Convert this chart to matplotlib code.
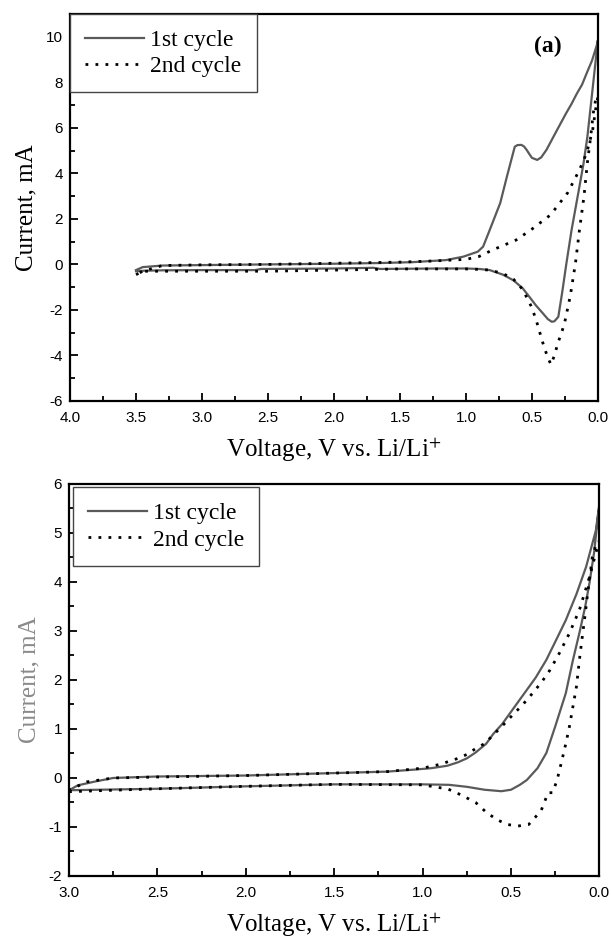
import numpy as np
import matplotlib.pyplot as plt

plt.rcParams['mathtext.fontset'] = 'stix'

# ---- panel (a): voltage (V) and current (mA), cathodic sweep then anodic sweep
a1_volt = [3.50, 3.45, 3.30, 3.00, 2.60, 2.55, 2.50, 2.00, 1.70, 1.65, 1.20, 1.00,
           0.90, 0.82, 0.72, 0.64, 0.57, 0.52, 0.47, 0.42, 0.38, 0.35, 0.33, 0.30,
           0.27, 0.24, 0.20, 0.15, 0.11, 0.08, 0.048, 0.02, 0.0,
           0.01, 0.045, 0.085, 0.12, 0.16, 0.20, 0.24, 0.31, 0.39, 0.43, 0.46, 0.50,
           0.52, 0.54, 0.56, 0.58, 0.61, 0.63, 0.65, 0.69, 0.74, 0.82, 0.87, 0.91,
           1.02, 1.15, 1.40, 1.65, 2.00, 2.50, 3.00, 3.30, 3.45, 3.50]
a1_curr = [-0.30, -0.28, -0.26, -0.25, -0.25, -0.20, -0.20, -0.18, -0.15, -0.20, -0.18, -0.18,
           -0.20, -0.25, -0.45, -0.70, -1.05, -1.42, -1.80, -2.13, -2.40, -2.52, -2.50, -2.30,
           -1.20, 0.00, 1.50, 3.10, 4.40, 5.60, 7.30, 8.80, 9.85,
           9.60, 8.95, 8.40, 7.90, 7.50, 7.05, 6.65, 5.90, 5.03, 4.70, 4.59, 4.68,
           4.85, 5.03, 5.18, 5.25, 5.24, 5.17, 4.73, 3.85, 2.70, 1.51, 0.78, 0.56,
           0.34, 0.19, 0.10, 0.06, 0.03, 0.00, -0.03, -0.05, -0.12, -0.25]

a2_volt = [3.50, 3.45, 3.00, 2.50, 2.00, 1.50, 1.00, 0.90, 0.82, 0.72, 0.64, 0.57,
           0.50, 0.46, 0.42, 0.38, 0.355, 0.33, 0.30, 0.27, 0.25, 0.21, 0.17, 0.14,
           0.106, 0.08, 0.055, 0.035, 0.015, 0.0,
           0.005, 0.015, 0.04, 0.085, 0.14, 0.23, 0.36, 0.50, 0.62, 0.80, 0.90, 1.00,
           1.25, 1.50, 2.00, 2.50, 3.00, 3.30, 3.45, 3.50]
a2_curr = [-0.45, -0.30, -0.30, -0.30, -0.25, -0.20, -0.20, -0.22, -0.25, -0.40, -0.65, -1.10,
           -1.90, -2.60, -3.40, -4.10, -4.40, -4.00, -3.40, -2.90, -2.50, -1.40, 0.06, 1.51,
           2.97, 4.46, 5.60, 6.65, 7.30, 7.40,
           7.20, 6.90, 5.90, 4.90, 4.15, 3.14, 2.17, 1.55, 1.07, 0.63, 0.35, 0.22,
           0.15, 0.10, 0.05, 0.00, -0.02, -0.05, -0.30, -0.45]

# ---- panel (b)
b1_volt = [3.00, 2.50, 2.00, 1.50, 1.00, 0.85, 0.75, 0.65, 0.555, 0.50, 0.45, 0.41,
           0.35, 0.30, 0.25, 0.19, 0.15, 0.113, 0.08, 0.056, 0.03, 0.01, 0.0,
           0.0, 0.02, 0.075, 0.13, 0.19, 0.24, 0.30, 0.36, 0.42, 0.48, 0.55, 0.60,
           0.64, 0.70, 0.75, 0.80, 0.86, 0.95, 1.05, 1.20, 1.50, 2.00, 2.50, 2.75,
           2.85, 2.95, 3.00]
b1_curr = [-0.25, -0.22, -0.17, -0.13, -0.13, -0.14, -0.18, -0.24, -0.27, -0.24, -0.14, -0.04,
           0.20, 0.51, 1.05, 1.73, 2.40, 2.96, 3.50, 3.98, 4.60, 5.27, 5.55,
           5.60, 5.05, 4.31, 3.75, 3.22, 2.85, 2.41, 2.05, 1.75, 1.45, 1.10, 0.90,
           0.70, 0.52, 0.40, 0.32, 0.25, 0.20, 0.17, 0.13, 0.10, 0.05, 0.03, 0.00,
           -0.07, -0.15, -0.25]

b2_volt = [3.00, 2.50, 2.00, 1.50, 1.00, 0.90, 0.86, 0.78, 0.70, 0.64, 0.58, 0.52,
           0.46, 0.40, 0.33, 0.29, 0.265, 0.24, 0.216, 0.19, 0.17, 0.15, 0.13, 0.11,
           0.094, 0.08, 0.066, 0.04, 0.02, 0.0,
           0.0, 0.02, 0.056, 0.113, 0.17, 0.226, 0.28, 0.33, 0.385, 0.435, 0.50, 0.555,
           0.60, 0.65, 0.70, 0.75, 0.80, 0.90, 1.00, 1.20, 1.50, 2.00, 2.50, 2.75,
           2.90, 3.00]
b2_curr = [-0.28, -0.22, -0.17, -0.13, -0.14, -0.20, -0.22, -0.35, -0.50, -0.70, -0.85, -0.95,
           -0.98, -0.95, -0.67, -0.30, -0.30, -0.05, 0.30, 0.70, 1.04, 1.45, 1.86, 2.50,
           2.96, 3.35, 3.78, 4.51, 4.75, 4.85,
           4.85, 4.59, 4.10, 3.43, 2.95, 2.55, 2.20, 1.94, 1.70, 1.49, 1.25, 1.04,
           0.88, 0.70, 0.60, 0.48, 0.40, 0.28, 0.20, 0.13, 0.10, 0.05, 0.02, 0.00,
           -0.08, -0.25]

legend_labels = ['1st cycle', '2nd cycle']

solid_color = '#5a5a5a'
dot_style = (0, (1, 2.6))
serif = 'Liberation Serif'
sans = 'Liberation Sans'

fig = plt.figure(figsize=(6.11, 9.38), dpi=100)
ax1 = fig.add_axes([0.1146, 0.5725, 0.864, 0.4126])
ax2 = fig.add_axes([0.1130, 0.0661, 0.868, 0.418])


def style_axis(ax, xlim, ylim, xmajor, ymajor, ylab_color):
    ax.set_xlim(*xlim)
    ax.set_ylim(*ylim)
    ax.set_xticks(np.arange(0, xlim[0] + 0.01, xmajor))
    ax.set_xticks(np.arange(0, xlim[0] + 0.01, xmajor / 2), minor=True)
    ax.set_yticks(np.arange(ylim[0], ylim[1] + 0.01, ymajor))
    ax.set_yticks(np.arange(ylim[0], ylim[1] + 0.01, ymajor / 2), minor=True)
    ax.xaxis.set_major_formatter(plt.FormatStrFormatter('%.1f'))
    ax.yaxis.set_major_formatter(plt.FormatStrFormatter('%d'))
    ax.tick_params(which='both', direction='in', top=False, right=False, width=1.3)
    ax.tick_params(which='major', length=6, labelsize=11, pad=5)
    ax.tick_params(axis='x', which='major', pad=7)
    ax.tick_params(which='minor', length=3.5)
    for lab in ax.get_xticklabels() + ax.get_yticklabels():
        lab.set_fontfamily(sans)
    for sp in ax.spines.values():
        sp.set_linewidth(1.6)
    ax.set_xlabel('Voltage, V vs. Li/Li$^{+}$', fontfamily=serif, fontsize=18, labelpad=8)
    ax.set_ylabel('Current, mA', fontfamily=serif, fontsize=18, color=ylab_color, labelpad=6)


for ax, c1, c2, gap in [(ax1, (a1_volt, a1_curr), (a2_volt, a2_curr), 0.0),
                        (ax2, (b1_volt, b1_curr), (b2_volt, b2_curr), 0.15)]:
    ax.plot(c1[0], c1[1], color=solid_color, lw=1.6, label=legend_labels[0])
    ax.plot(c2[0], c2[1], color='black', lw=2.0, linestyle=dot_style, label=legend_labels[1])
    leg = ax.legend(loc='upper left', bbox_to_anchor=(0.0, 1.0), borderaxespad=gap,
                    prop={'family': serif, 'size': 17}, frameon=True, fancybox=False,
                    framealpha=1, edgecolor='#444444', handlelength=2.5,
                    handletextpad=0.25, labelspacing=0.2, borderpad=0.65)
    leg.get_frame().set_linewidth(1.0)

style_axis(ax1, (4.0, 0.0), (-6, 11), 0.5, 2, 'black')
style_axis(ax2, (3.0, 0.0), (-2, 6), 0.5, 1, '#8a8a8a')
ax1.set_yticks(np.arange(-6, 11, 2))
ax1.set_yticks(np.arange(-6, 12, 1), minor=True)
ax1.text(0.905, 0.915, '(a)', transform=ax1.transAxes, fontfamily=serif,
         fontsize=17, fontweight='bold', ha='center', va='center')

fig.savefig('out.png', dpi=100)
